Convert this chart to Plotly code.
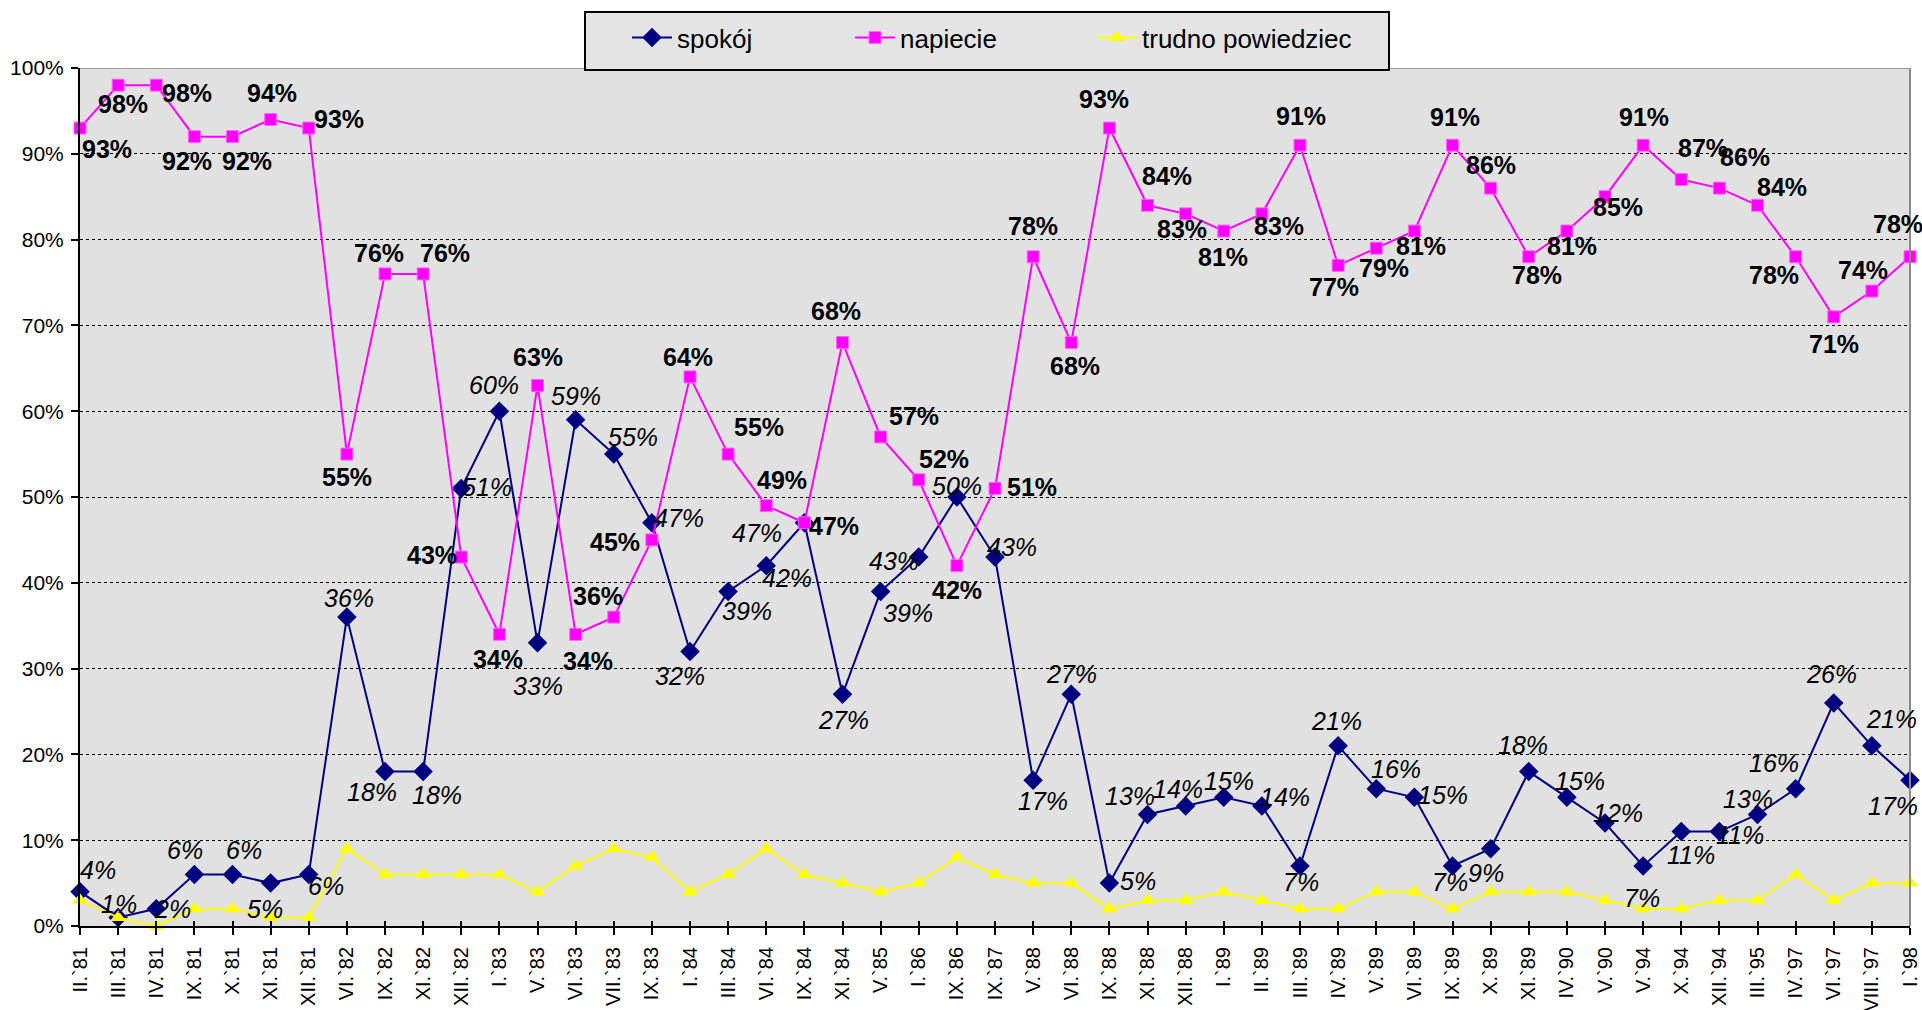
import plotly.graph_objects as go

categories = ["II.`81", "III.`81", "IV.`81", "IX.`81", "X.`81", "XI.`81", "XII.`81",
              "VI.`82", "IX.`82", "XI.`82", "XII.`82",
              "I.`83", "V.`83", "VI.`83", "VII.`83", "IX.`83",
              "I.`84", "III.`84", "VI.`84", "IX.`84", "XI.`84",
              "V.`85", "I.`86", "IX.`86", "IX.`87",
              "V.`88", "VI.`88", "IX.`88", "XI.`88", "XII.`88",
              "I.`89", "II.`89", "III.`89", "IV.`89", "V.`89", "VI.`89", "IX.`89", "X.`89", "XI.`89",
              "IV.`90", "V.`90", "V.`94", "X.`94", "XII.`94", "III.`95",
              "IV.`97", "VI.`97", "VIII.`97", "I.`98"]

spokoj = [4, 1, 2, 6, 6, 5, 6, 36, 18, 18, 51, 60, 33, 59, 55, 47, 32, 39, 42, 47, 27,
          39, 43, 50, 43, 17, 27, 5, 13, 14, 15, 14, 7, 21, 16, 15, 7, 9, 18, 15, 12,
          7, 11, 11, 13, 16, 26, 21, 17]
napiecie = [93, 98, 98, 92, 92, 94, 93, 55, 76, 76, 43, 34, 63, 34, 36, 45, 64, 55, 49, 47, 68,
            57, 52, 42, 51, 78, 68, 93, 84, 83, 81, 83, 91, 77, 79, 81, 91, 86, 78, 81, 85,
            91, 87, 86, 84, 78, 71, 74, 78]
trudno = [3, 1, 0, 2, 2, 1, 1, 9, 6, 6, 6, 6, 4, 7, 9, 8, 4, 6, 9, 6, 5,
          4, 5, 8, 6, 5, 5, 2, 3, 3, 4, 3, 2, 2, 4, 4, 2, 4, 4, 4, 3,
          2, 2, 3, 3, 6, 3, 5, 5]

y_ticks = [0, 10, 20, 30, 40, 50, 60, 70, 80, 90, 100]
y_ticktext = [f"{v}%" for v in y_ticks]

# label offsets relative to each marker (px of the reduced picture; +dy = down)
nap_dx = [22, 4, 25, -6, 12, 1, 25, 0, -5, 18, -24, -1, 0, 10, -13, -30, -2, 25, 13, 24,
          -5, 27, 21, 0, 30, 0, 3, -4, 16, -3, -1, 14, 1, -3, 6, 5, 2, 0, 7, 4,
          11, 1, 18, 21, 20, -18, 0, -7, -10]
nap_dy = [17, 15, 6, 20, 20, -22, -7, 19, -17, -17, -2, 20, -23, 22, -17, 2, -16, -22, -21, 3,
          -26, -17, -17, 20, -1, -25, 19, -24, -24, 12, 21, 10, -24, 18, 16, 12, -23, -19, 15, 12,
          8, -23, -26, -25, -15, 15, 22, -17, -27]
sp_dx = [15, 1, 13, -8, 9, -5, 14, 2, -11, 11, 21, -4, 0, 0, 16, 22, -8, 15, 17, -39,
         1, 22, -20, 0, 14, 8, 0, 23, -14, -6, 4, 19, 1, -1, 16, 23, -2, -4, -5, 11,
         11, -1, 8, 17, -8, -18, -2, 16, -14]
sp_dy = [-18, -11, 0, -20, -20, 21, 9, -16, 17, 19, -1, -21, 35, -19, -14, -4, 20, 16, 10, 8,
         21, 18, 3, -9, -8, 17, -17, -2, -15, -14, -13, -7, 13, -20, -16, -2, 13, 20, -22, -13,
         -8, 26, 19, 3, -13, -21, -24, -22, 21]
SC = 1.2258

FONT = "Liberation Sans, Arial, sans-serif"
PL, PR, PT, PB = 80, 1910, 68, 926
PW, PH = PR - PL, PB - PT

def px_x(v):
    return (v - PL) / PW

def px_y(v):
    return (PB - v) / PH

fig = go.Figure()
fig.add_trace(go.Scatter(
    x=categories, y=spokoj, name="spokój", mode="lines+markers", legend="legend",
    line=dict(color="#000080", width=2),
    marker=dict(symbol="diamond", size=15, color="#000080"),
    cliponaxis=False))
fig.add_trace(go.Scatter(
    x=categories, y=napiecie, name="napiecie", mode="lines+markers", legend="legend2",
    line=dict(color="#FF00FF", width=2),
    marker=dict(symbol="square", size=12, color="#FF00FF",
                line=dict(color="#FF66FF", width=1)),
    cliponaxis=False))
fig.add_trace(go.Scatter(
    x=categories, y=trudno, name="trudno powiedziec", mode="lines+markers", legend="legend3",
    line=dict(color="#FFFF00", width=2),
    marker=dict(symbol="triangle-up", size=14, color="#FFFF00"),
    cliponaxis=False))
# helper trace for crossing tick marks on the category axis
fig.add_trace(go.Scatter(
    x=categories, y=trudno, xaxis="x2", mode="markers",
    marker=dict(opacity=0), showlegend=False, hoverinfo="skip"))

annotations = []
for c, v, dx, dy in zip(categories, napiecie, nap_dx, nap_dy):
    annotations.append(dict(x=c, y=v, text=f"{v}%", showarrow=False,
                            xanchor="center", yanchor="middle",
                            xshift=dx * SC, yshift=-dy * SC,
                            font=dict(family=FONT, size=25, color="black", weight="bold")))
for c, v, dx, dy in zip(categories, spokoj, sp_dx, sp_dy):
    annotations.append(dict(x=c, y=v, text=f"{v}%", showarrow=False,
                            xanchor="center", yanchor="middle",
                            xshift=dx * SC, yshift=-dy * SC,
                            font=dict(family=FONT, size=25, color="black", style="italic")))

leg_common = dict(orientation="h", xanchor="left", yanchor="top",
                  bgcolor="rgba(0,0,0,0)", borderwidth=0,
                  font=dict(family=FONT, size=26, color="black"), itemwidth=40)
leg_y = px_y(14)

fig.update_layout(
    width=1922, height=1010,
    margin=dict(l=PL, r=1922 - PR, t=PT, b=1010 - PB),
    paper_bgcolor="white", plot_bgcolor="#E1E1E1",
    font=dict(family=FONT, color="black"),
    annotations=annotations,
    showlegend=True,
    legend=dict(x=px_x(627), y=leg_y, **leg_common),
    legend2=dict(x=px_x(850), y=leg_y, **leg_common),
    legend3=dict(x=px_x(1092), y=leg_y, **leg_common),
    xaxis=dict(type="category", range=[0, len(categories) - 1],
               tickangle=-90, tickfont=dict(family=FONT, size=20, color="black"),
               showline=True, linecolor="black", linewidth=2,
               ticks="outside", ticklen=7, tickwidth=2, tickcolor="black",
               ticklabelstandoff=4,
               showgrid=False, automargin=False, fixedrange=True),
    xaxis2=dict(type="category", overlaying="x", matches="x", side="bottom",
                range=[0, len(categories) - 1], anchor="y",
                showticklabels=False, ticks="inside", ticklen=5, tickwidth=2,
                tickcolor="black", showgrid=False, showline=False),
    yaxis=dict(range=[0, 100], tickvals=y_ticks, ticktext=y_ticktext,
               tickfont=dict(family=FONT, size=21, color="black"),
               showline=True, linecolor="black", linewidth=2,
               ticks="outside", ticklen=7, tickwidth=2, tickcolor="black",
               ticklabelstandoff=3,
               showgrid=True, gridcolor="black", gridwidth=1, griddash="dot",
               zeroline=False, automargin=False),
    shapes=[
        dict(type="line", xref="paper", yref="y", x0=0, x1=1, y0=100, y1=100,
             line=dict(color="#9A9A9A", width=2), layer="above"),
        dict(type="line", xref="paper", yref="y", x0=1, x1=1, y0=0, y1=100,
             line=dict(color="#8A8A8A", width=2), layer="above"),
        dict(type="rect", xref="paper", yref="paper",
             x0=px_x(585), x1=px_x(1389), y0=px_y(70), y1=px_y(12),
             fillcolor="#E4E4E4", line=dict(color="black", width=2), layer="above"),
    ],
)

fig.write_html("out.html", config={"displayModeBar": False},
               post_script="document.body.style.margin='0';document.body.style.overflow='hidden';")
